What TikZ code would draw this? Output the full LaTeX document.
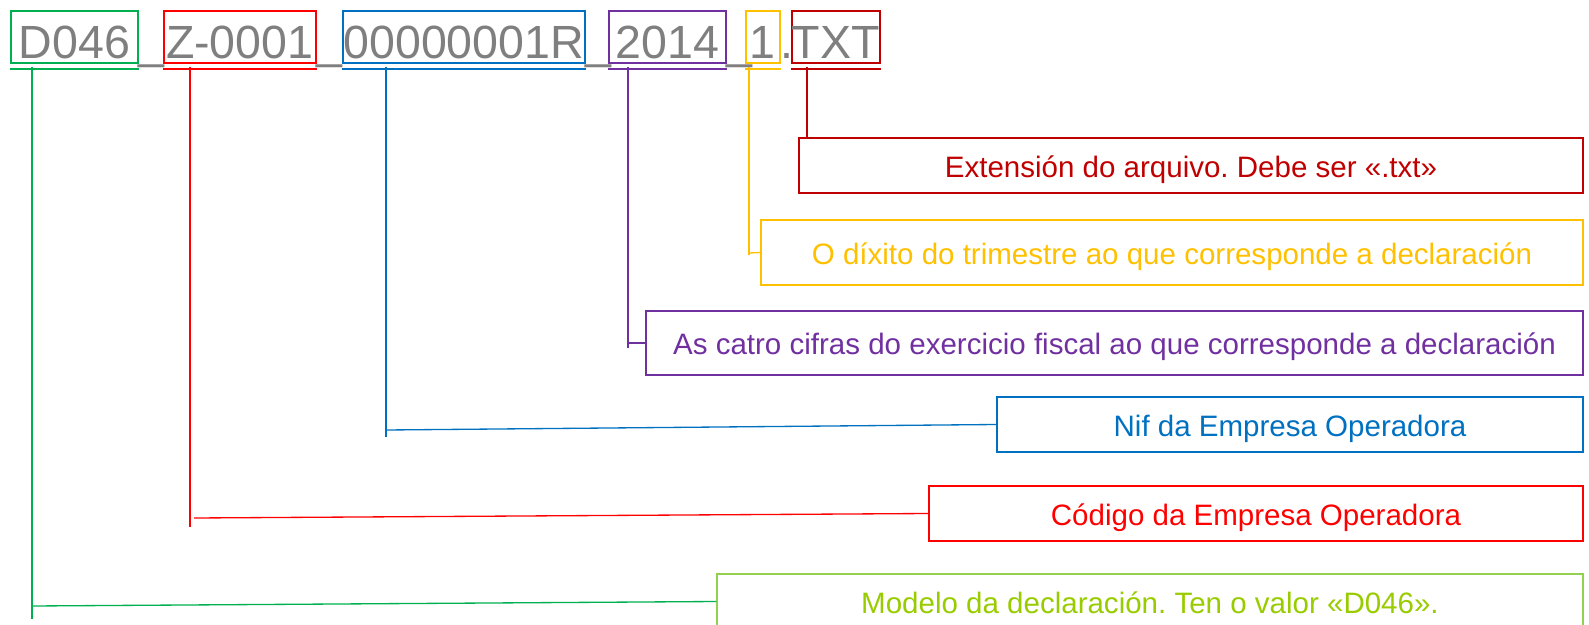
\documentclass[tikz,border=0pt]{standalone}
\usepackage{fontspec}
\setmainfont{Liberation Sans}
\usepackage{tikz}
\usepackage{xcolor}
\frenchspacing

\definecolor{fnGray}{HTML}{7F7F7F}
\definecolor{cD}{HTML}{00B050}
\definecolor{cDnote}{HTML}{92D050}
\definecolor{cDtext}{HTML}{99CC00}
\definecolor{cZ}{HTML}{FF0000}
\definecolor{cNif}{HTML}{0070C0}
\definecolor{cYear}{HTML}{7030A0}
\definecolor{cQ}{HTML}{FFC000}
\definecolor{cExt}{HTML}{C00000}

\begin{document}
\begin{tikzpicture}[x=0.02cm, y=-0.02cm,
        seg/.style={draw=#1, line width=0.9pt, text=fnGray, font=\fontsize{26.5}{30}\selectfont,
            inner sep=0pt, text height=0.96cm, text depth=0.08cm, anchor=north west},
        fname/.style={text=fnGray, font=\fontsize{26.5}{30}\selectfont, inner sep=0pt, anchor=base west},
        note/.style={draw=#1, text=#1, line width=0.9pt, font=\fontsize{16.8}{20}\selectfont,
            text height=17pt, text depth=3.5pt, minimum height=1.1cm},
        bar/.style={draw=#1, line width=1.2pt},
        lnk/.style={draw=#1, line width=0.75pt}]
            \useasboundingbox (0,0) rectangle (1589,625);

            % File name, one box per field
            \node[seg=cD, minimum width=2.54cm] (segD) at (10,10) {D046};
            \node[fname] (u1) at (segD.base east) {\_};
            \node[seg=cZ, minimum width=3.04cm] (segZ) at (163,10) {Z-0001};
            \node[fname] (u2) at (segZ.base east) {\_};
            \node[seg=cNif, minimum width=4.84cm] (segNif) at (342,10) {00000001R};
            \node[fname] (u3) at (segNif.base east) {\_};
            \node[seg=cYear, minimum width=2.34cm] (segYear) at (608,10) {2014};
            \node[fname] (u4) at (segYear.base east) {\_};
            \node[seg=cQ, minimum width=0.68cm] (segQ) at (745,10) {1};
            \node[fname] (dot) at (segQ.base east) {.};
            \node[seg=cExt, minimum width=1.72cm] (segExt) at (791,10) {TXT};

            % Brackets under the fields
            \foreach \f/\c in {D/cD, Z/cZ, Nif/cNif, Year/cYear, Q/cQ, Ext/cExt}
                \draw[bar=\c] ([yshift=-0.1cm]seg\f.south west) -- ([yshift=-0.1cm]seg\f.south east);

            % Explanations
            \node[note=cExt, minimum width=15.68cm] (noteExt) at (1191,165.5) {Extensión do arquivo. Debe ser «.txt»};
            \node[note=cQ, minimum width=16.44cm, minimum height=1.3cm] (noteQ) at (1172,252.5) {O díxito do trimestre ao que corresponde a declaración};
            \node[note=cYear, minimum width=18.74cm, minimum height=1.28cm] (noteYear) at (1114.5,343) {As catro cifras do exercicio fiscal ao que corresponde a declaración};
            \node[note=cNif, minimum width=11.72cm] (noteNif) at (1290,424.5) {Nif da Empresa Operadora};
            \node[note=cZ, minimum width=13.08cm] (noteZ) at (1256,513.5) {Código da Empresa Operadora};
            \node[note=cDnote, text=cDtext, minimum width=17.32cm] (noteD) at (1150,601.5) {Modelo da declaración. Ten o valor «D046».};

            % Drops and leaders
            \coordinate (tExt) at (807,67);
            \coordinate (tQ) at (749,67);   \coordinate (bQ) at (749,255);   \coordinate (lQ) at (749,253);
            \coordinate (tYear) at (628,67); \coordinate (bYear) at (628,348); \coordinate (lYear) at (628,343);
            \coordinate (tNif) at (386,67);  \coordinate (bNif) at (386,437);  \coordinate (lNif) at (386,430);
            \coordinate (tZ) at (190,67);    \coordinate (bZ) at (190,527);    \coordinate (lZ) at (194,518);
            \coordinate (tD) at (32,67);     \coordinate (bD) at (32,619);     \coordinate (lD) at (32,606);

            \draw[lnk=cExt] (tExt) -- (tExt |- noteExt.north);
            \draw[lnk=cQ] (tQ) -- (bQ);
            \draw[lnk=cQ] (lQ) -- (noteQ.west);
            \draw[lnk=cYear] (tYear) -- (bYear);
            \draw[lnk=cYear] (lYear) -- (noteYear.west);
            \draw[lnk=cNif] (tNif) -- (bNif);
            \draw[lnk=cNif] (lNif) -- (noteNif.west);
            \draw[lnk=cZ] (tZ) -- (bZ);
            \draw[lnk=cZ] (lZ) -- (noteZ.west);
            \draw[lnk=cD] (tD) -- (bD);
            \draw[lnk=cD] (lD) -- (noteD.west);
        \end{tikzpicture}
\end{document}
